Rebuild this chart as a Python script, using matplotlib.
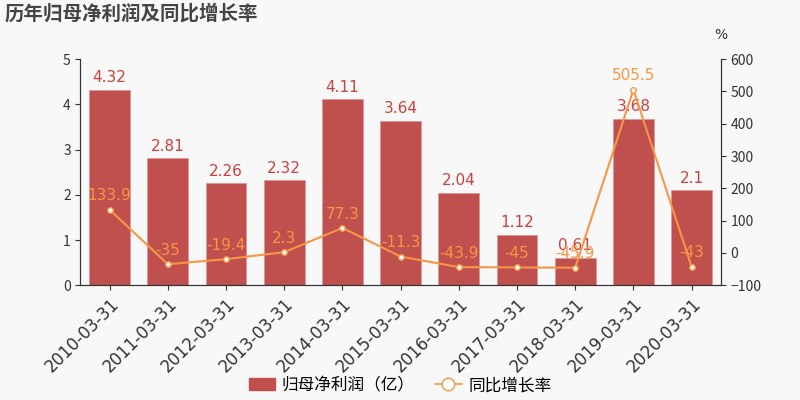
import matplotlib
matplotlib.use("Agg")
import matplotlib.pyplot as plt
import numpy as np
from matplotlib.patches import Patch
from matplotlib.lines import Line2D

plt.rcParams['font.family'] = ['Noto Sans CJK SC', 'DejaVu Sans']

categories = ["2010-03-31", "2011-03-31", "2012-03-31", "2013-03-31", "2014-03-31",
              "2015-03-31", "2016-03-31", "2017-03-31", "2018-03-31", "2019-03-31", "2020-03-31"]
profit = [4.32, 2.81, 2.26, 2.32, 4.11, 3.64, 2.04, 1.12, 0.61, 3.68, 2.1]
growth = [133.9, -35, -19.4, 2.3, 77.3, -11.3, -43.9, -45, -45.9, 505.5, -43]
profit_labels = ["4.32", "2.81", "2.26", "2.32", "4.11", "3.64", "2.04", "1.12", "0.61", "3.68", "2.1"]
growth_labels = ["133.9", "-35", "-19.4", "2.3", "77.3", "-11.3", "-43.9", "-45", "-45.9", "505.5", "-43"]

bg = '#f8f8f8'
bar_color = '#c0504d'
line_color = '#f79646'
text_gray = '#333333'

fig = plt.figure(figsize=(8, 4), dpi=100, facecolor=bg)
ax = fig.add_axes([0.1006, 0.287, 0.8003, 0.565])
ax.set_facecolor(bg)
x = np.arange(len(categories))
ax.bar(x, profit, width=0.7, color=bar_color, edgecolor='#d89a98', linewidth=0.6, zorder=2)
ax.set_xlim(-0.5, len(categories) - 0.5)
ax.set_ylim(0, 5)
ax.set_yticks([0, 1, 2, 3, 4, 5])
ax.set_xticks(x)
ax.set_xticklabels(categories, rotation=45, ha='right', rotation_mode='anchor', fontsize=12, color=text_gray,
                   family=['DejaVu Sans'])
ax.tick_params(axis='y', labelsize=10, colors=text_gray)
ax.tick_params(axis='x', colors=text_gray)
ax.spines['top'].set_visible(False)
for s in ['left', 'right', 'bottom']:
    ax.spines[s].set_color(text_gray)

for xi, v, lab in zip(x, profit, profit_labels):
    ax.text(xi, v + 0.1, lab, ha='center', va='bottom', color='#c9413d', fontsize=11, family=['DejaVu Sans'], zorder=5)

ax2 = ax.twinx()
ax2.set_ylim(-100, 600)
ax2.set_yticks([-100, 0, 100, 200, 300, 400, 500, 600])
ax2.tick_params(axis='y', labelsize=10, colors=text_gray)
ax2.spines['top'].set_visible(False)
for s in ['left', 'right', 'bottom']:
    ax2.spines[s].set_color(text_gray)
ax2.plot(x, growth, color=line_color, linewidth=1.5, marker='o', markersize=4,
         markerfacecolor='white', markeredgecolor=line_color, markeredgewidth=1, zorder=3)
for xi, v, lab in zip(x, growth, growth_labels):
    ax2.text(xi, v + 20, lab, ha='center', va='bottom', color=line_color, fontsize=11, family=['DejaVu Sans'], zorder=5)

fig.text(0.893, 0.902, '%', fontsize=10, color=text_gray, family=['DejaVu Sans'])
fig.text(0.006, 0.965, '历年归母净利润及同比增长率', fontsize=14, fontweight='bold', color='#444444', va='center')

handles = [Patch(facecolor=bar_color, edgecolor=bar_color),
           Line2D([0], [0], color=line_color, lw=1.2, marker='o', markersize=9,
                  markerfacecolor='white', markeredgecolor=line_color)]
fig.legend(handles, ['归母净利润（亿）', '同比增长率'], loc='center', bbox_to_anchor=(0.5, 0.036),
           ncol=2, frameon=False, fontsize=12, handlelength=1.6, columnspacing=1.2, handletextpad=0.4)

fig.savefig('out.png', dpi=100, facecolor=bg)
